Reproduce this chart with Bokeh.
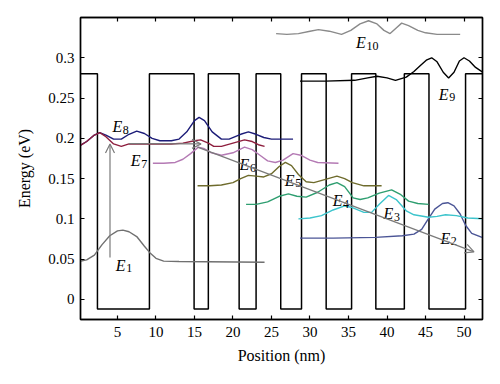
from bokeh.plotting import figure
from bokeh.models import (Range1d, LinearAxis, FixedTicker, Arrow, OpenHead, ColumnDataSource,
                          CustomLabelingPolicy)
from bokeh.core.properties import value
from bokeh.embed import file_html
from bokeh.resources import INLINE

# ---------------- data ----------------
x_ticks = [5, 10, 15, 20, 25, 30, 35, 40, 45, 50]
y_ticks = [0, 0.05, 0.1, 0.15, 0.2, 0.25, 0.3]
y_tick_labels = ["0", "0.05", "0.1", "0.15", "0.2", "0.25", "0.3"]

barrier_top = 0.28
well_bottom = -0.012
well_starts = [2.4, 14.95, 20.8, 26.2, 32.1, 38.55, 45.45]
well_ends = [9.15, 16.8, 23.0, 28.9, 35.4, 42.25, 50.2]
profile_x_min = 0.0
profile_x_max = 52.6

e1_x = [0, 1, 2, 3, 4, 5, 5.7, 6.5, 7.5, 8.5, 9.2, 10, 11, 13, 24.1]
e1_y = [0.047, 0.049, 0.055, 0.068, 0.079, 0.085, 0.086, 0.084, 0.078, 0.066, 0.058, 0.051, 0.0475, 0.047, 0.046]

e2_x = [28.7, 33, 38.5, 42, 43.5, 44.5, 45.3, 46.2, 47.2, 47.9, 48.7, 49.5, 50.2, 51, 52.6]
e2_y = [0.076, 0.076, 0.077, 0.079, 0.081, 0.087, 0.099, 0.112, 0.119, 0.120, 0.116, 0.106, 0.092, 0.082, 0.076]

e3_x = [28.5, 30, 31.5, 33, 34.5, 35.5, 37, 38, 39, 40.2, 41.2, 42.5, 43.5, 45.4, 46.5, 47.6, 49, 50.5, 52.6]
e3_y = [0.100, 0.101, 0.104, 0.111, 0.116, 0.114, 0.108, 0.108, 0.118, 0.129, 0.124, 0.110, 0.105, 0.102, 0.103, 0.105, 0.104, 0.101, 0.100]

e4_x = [21.7, 23, 24.5, 26, 27.2, 28.3, 29.5, 31, 32.5, 33.5, 34.5, 35.6, 36.5, 37.5, 39, 40.6, 41.8, 42.8, 44, 45.4]
e4_y = [0.118, 0.118, 0.121, 0.128, 0.131, 0.128, 0.127, 0.133, 0.142, 0.145, 0.140, 0.126, 0.124, 0.126, 0.132, 0.136, 0.130, 0.122, 0.119, 0.118]

e5_x = [15.4, 17, 18.5, 20, 21, 22, 23, 24, 25, 26, 26.8, 27.6, 28.5, 29.5, 30.5, 32, 33.5, 34.5, 35.5, 37, 39.3]
e5_y = [0.141, 0.141, 0.142, 0.145, 0.150, 0.154, 0.153, 0.152, 0.156, 0.165, 0.170, 0.166, 0.155, 0.146, 0.145, 0.149, 0.153, 0.150, 0.145, 0.141, 0.141]

e6_x = [9.6, 11, 12.5, 13.5, 14.5, 15.5, 16.3, 17.2, 18.5, 20, 21.5, 22.5, 23.5, 24.5, 25.5, 26.5, 27.8, 28.8, 30, 31, 33.7]
e6_y = [0.169, 0.169, 0.170, 0.174, 0.181, 0.189, 0.187, 0.182, 0.179, 0.182, 0.189, 0.186, 0.179, 0.172, 0.170, 0.173, 0.181, 0.179, 0.173, 0.170, 0.169]

e7_x = [0, 1, 2, 2.7, 3.5, 4.5, 5.5, 6.5, 8, 10, 12, 13.5, 15, 15.8, 16.8, 17.5, 18.5, 20, 21.5, 22.5, 23.3, 24.1]
e7_y = [0.190, 0.196, 0.204, 0.207, 0.202, 0.193, 0.190, 0.193, 0.193, 0.193, 0.193, 0.194, 0.197, 0.198, 0.194, 0.190, 0.190, 0.194, 0.198, 0.196, 0.192, 0.190]

e8_x = [0, 1, 2, 2.7, 3.5, 4.5, 5.5, 6.5, 7.5, 8.5, 9.5, 10.5, 12, 13, 14, 15, 15.6, 16.3, 17.3, 18.5, 19.5, 21, 22, 23, 24, 25, 27.8]
e8_y = [0.190, 0.196, 0.204, 0.207, 0.204, 0.199, 0.199, 0.205, 0.209, 0.206, 0.200, 0.197, 0.197, 0.199, 0.208, 0.222, 0.226, 0.222, 0.208, 0.199, 0.199, 0.205, 0.208, 0.205, 0.201, 0.199, 0.199]

e9_x = [28.7, 32, 35.8, 37.5, 38.7, 40, 41.1, 42.5, 43.5, 44.3, 45.1, 45.8, 46.5, 47.3, 48, 48.7, 49.4, 50, 50.7, 51.5, 52.6]
e9_y = [0.271, 0.271, 0.272, 0.275, 0.277, 0.275, 0.272, 0.276, 0.283, 0.290, 0.297, 0.300, 0.295, 0.282, 0.275, 0.282, 0.296, 0.300, 0.296, 0.288, 0.281]

e10_x = [25.6, 27, 28.5, 30, 31.1, 32.5, 34.1, 35.3, 36.5, 37.6, 38.7, 39.6, 40.4, 41.2, 41.9, 42.8, 44, 45, 46.5, 48, 49.5]
e10_y = [0.330, 0.329, 0.330, 0.333, 0.335, 0.333, 0.329, 0.334, 0.342, 0.346, 0.342, 0.334, 0.330, 0.337, 0.343, 0.340, 0.334, 0.331, 0.329, 0.329, 0.329]

curve_colors = ["#707070", "#4b5596", "#3cc4cc", "#2e9e70", "#6e6b2c",
                "#b47ab4", "#8e1f3e", "#1c1c78", "#000000", "#8a8a8a"]

arrow_x0 = [4.03, 6.5, 15.4]
arrow_y0 = [0.052, 0.1935, 0.189]
arrow_x1 = [4.03, 15.85, 51.3]
arrow_y1 = [0.193, 0.193, 0.059]

label_sub = ["1", "2", "3", "4", "5", "6", "7", "8", "9", "10"]
label_x = [4.78, 46.94, 39.56, 32.95, 26.72, 20.86, 6.73, 4.34, 46.73, 35.99]
label_y = [0.0421, 0.0759, 0.1061, 0.1225, 0.1480, 0.1671, 0.1720, 0.2141, 0.2545, 0.3184]

# ---------------- figure ----------------
serif = value("Liberation Serif")

p = figure(frame_width=402, frame_height=302,
           x_range=Range1d(0.2, 52.4), y_range=Range1d(-0.025, 0.35),
           output_backend="svg", toolbar_location=None,
           min_border_left=80, min_border_right=10, min_border_top=17, min_border_bottom=40,
           background_fill_color="white", border_fill_color="white")
p.grid.visible = False
p.outline_line_color = "black"
p.outline_line_width = 1.4

bottom_axis = p.below[0]
left_axis = p.left[0]
bottom_axis.axis_label = "Position (nm)"
left_axis.axis_label = "Energy (eV)"
bottom_axis.ticker = FixedTicker(ticks=x_ticks)
left_axis.ticker = FixedTicker(ticks=y_ticks)
left_axis.major_label_overrides = {t: s for t, s in zip(y_ticks, y_tick_labels)}

no_labels = CustomLabelingPolicy(code="for (const i of indices) { indices.unset(i) }\nreturn indices")
top_axis = LinearAxis(ticker=FixedTicker(ticks=x_ticks), major_label_policy=no_labels)
right_axis = LinearAxis(ticker=FixedTicker(ticks=y_ticks),
                        major_label_policy=CustomLabelingPolicy(code="for (const i of indices) { indices.unset(i) }\nreturn indices"))
p.add_layout(top_axis, "above")
p.add_layout(right_axis, "right")

for ax in [bottom_axis, left_axis, top_axis, right_axis]:
    ax.major_tick_in = 4
    ax.major_tick_out = 0
    ax.minor_tick_in = 0
    ax.minor_tick_out = 0
    ax.axis_line_color = "black"
    ax.axis_line_width = 1.4
    ax.major_tick_line_color = "black"
    ax.major_tick_line_width = 1.2
    ax.major_label_text_font = "Liberation Serif"
    ax.major_label_text_font_size = "15px"
    ax.major_label_text_color = "black"
    ax.axis_label_text_font = "Liberation Serif"
    ax.axis_label_text_font_size = "16px"
    ax.axis_label_text_font_style = "normal"
    ax.axis_label_text_color = "black"

bottom_axis.major_label_standoff = 7
left_axis.major_label_standoff = 6
bottom_axis.axis_label_standoff = 7
left_axis.axis_label_standoff = 12
for ax in [top_axis, right_axis]:
    ax.major_label_standoff = 0

# potential profile
prof_x = [profile_x_min]
prof_y = [barrier_top]
for s, e in zip(well_starts, well_ends):
    prof_x += [s, s, e, e]
    prof_y += [barrier_top, well_bottom, well_bottom, barrier_top]
prof_x.append(profile_x_max)
prof_y.append(barrier_top)
p.line(prof_x, prof_y, line_color="black", line_width=1.5)

curves = [(e1_x, e1_y), (e2_x, e2_y), (e3_x, e3_y), (e4_x, e4_y), (e5_x, e5_y),
          (e6_x, e6_y), (e8_x, e8_y), (e7_x, e7_y), (e9_x, e9_y), (e10_x, e10_y)]
colors = [curve_colors[i] for i in [0, 1, 2, 3, 4, 5, 7, 6, 8, 9]]
for (cx, cy), c in zip(curves, colors):
    p.line(cx, cy, line_color=c, line_width=1.4)

grey = "#7a7a7a"
for x0, y0, x1, y1 in zip(arrow_x0, arrow_y0, arrow_x1, arrow_y1):
    p.add_layout(Arrow(end=OpenHead(size=9, line_color=grey, line_width=1.2),
                       x_start=x0, y_start=y0, x_end=x1, y_end=y1,
                       line_color=grey, line_width=1.2))

# labels E_n
src = ColumnDataSource(dict(x=label_x, y=label_y, t=["E"] * len(label_x)))
p.text(x="x", y="y", text="t", source=src, text_font=serif, text_font_style="italic",
       text_font_size="16px", text_color="black", text_align="left", text_baseline="alphabetic")
sub_x = [x + 1.35 for x in label_x]
sub_y = [y - 0.0035 for y in label_y]
src2 = ColumnDataSource(dict(x=sub_x, y=sub_y, t=label_sub))
p.text(x="x", y="y", text="t", source=src2, text_font=serif,
       text_font_size="12px", text_color="black", text_align="left", text_baseline="alphabetic")

open("out.html", "w").write(file_html(p, INLINE))
